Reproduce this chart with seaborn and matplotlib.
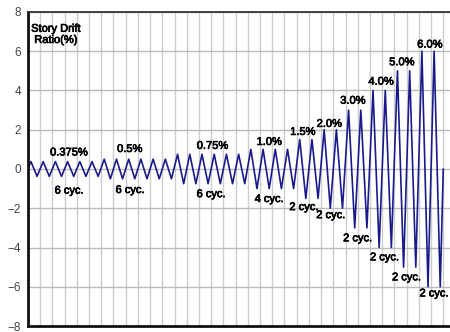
import numpy as np
import pandas as pd
import matplotlib
matplotlib.use("Agg")
import matplotlib.pyplot as plt
import matplotlib.patheffects as pe
import seaborn as sns

# ---- data ----
drift_levels = [0.375, 0.5, 0.75, 1.0, 1.5, 2.0, 3.0, 4.0, 5.0, 6.0]
cycle_counts = [6, 6, 6, 4, 2, 2, 2, 2, 2, 2]
level_labels = ["0.375%", "0.5%", "0.75%", "1.0%", "1.5%", "2.0%", "3.0%", "4.0%", "5.0%", "6.0%"]
cycle_labels = ["6 cyc.", "6 cyc.", "6 cyc.", "4 cyc.", "2 cyc.", "2 cyc.", "2 cyc.", "2 cyc.", "2 cyc.", "2 cyc."]
y_ticks = [-8, -6, -4, -2, 0, 2, 4, 6, 8]

# label anchor positions (data coords)
level_label_pos = [(3.35, 0.84), (8.33, 1.02), (15.1, 1.18), (19.75, 1.38), (22.5, 1.89),
                   (24.67, 2.3), (26.6, 3.48), (28.9, 4.45), (30.6, 5.44), (32.9, 6.34)]
cycle_label_pos = [(3.38, -1.1), (8.37, -1.07), (15.0, -1.28), (19.75, -1.53), (22.6, -1.94),
                   (24.8, -2.35), (27.0, -3.53), (29.2, -4.5), (31.0, -5.52), (33.25, -6.34)]

# build triangular loading history from levels and cycle counts
t = [0.0]
d = [0.0]
c = 0
for amp, n in zip(drift_levels, cycle_counts):
    for _ in range(n):
        t += [c + 0.25, c + 0.75]
        d += [amp, -amp]
        c += 1
t.append(float(c))
d.append(0.0)
df = pd.DataFrame({"cycle": t, "drift": d})
total_cycles = c

sns.set_theme(style="white")
plt.rcParams["font.family"] = ["Liberation Sans", "DejaVu Sans"]
plt.rcParams["axes.unicode_minus"] = True

fig = plt.figure(figsize=(4.5, 3.32), dpi=100)
ax = fig.add_axes([0.062, 0.018, 0.938, 0.946])

sns.lineplot(data=df, x="cycle", y="drift", ax=ax, color="#1a1a8c",
             linewidth=1.2, estimator=None, sort=False)

ax.set_xlim(0, total_cycles + 0.55)
ax.set_ylim(-8, 8)
ax.set_xticks(np.arange(0, total_cycles + 1, 1))
ax.set_xticklabels([])
ax.set_yticks(y_ticks)
ax.set_yticklabels([str(v).replace("-", "\u2212") for v in y_ticks])
ax.tick_params(axis="x", length=0)
ax.tick_params(axis="y", direction="in", length=3, width=1, color="#222222",
               labelsize=8.5, labelcolor="#444444", pad=5)
ax.grid(True, axis="x", color="#cccccc", linewidth=1.0)
ax.grid(True, axis="y", color="#bbbbbb", linewidth=1.0)
ax.set_axisbelow(True)
ax.set_xlabel("")
ax.set_ylabel("")

for side in ["left", "bottom"]:
    ax.spines[side].set_color("#111111")
    ax.spines[side].set_linewidth(2.0)
ax.spines["top"].set_color("#333333")
ax.spines["top"].set_linewidth(1.3)
ax.spines["right"].set_visible(False)

stroke = [pe.withStroke(linewidth=0.5, foreground="black")]

ax.text(2.3, 7.4, "Story Drift\nRatio(%)", ha="center", va="top",
        fontsize=8, color="black", linespacing=1.15, path_effects=stroke)

for lab, (x, y) in zip(level_labels, level_label_pos):
    ax.text(x, y, lab, ha="center", va="center", fontsize=8, color="black",
            path_effects=stroke)
for lab, (x, y) in zip(cycle_labels, cycle_label_pos):
    ax.text(x, y, lab, ha="center", va="center", fontsize=8, color="black",
            path_effects=stroke)

fig.savefig("out.png", dpi=100)
